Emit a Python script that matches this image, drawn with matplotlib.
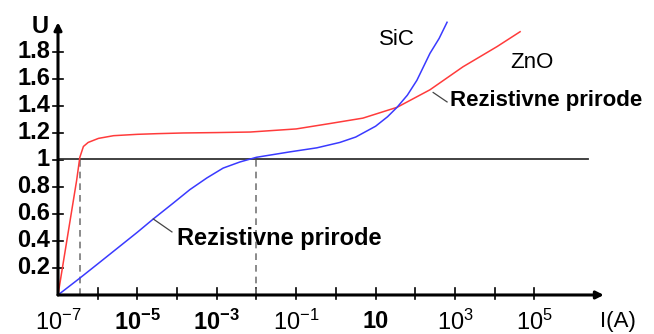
import matplotlib
matplotlib.use("Agg")
import matplotlib.pyplot as plt

plt.rcParams['font.family'] = ['Liberation Sans', 'DejaVu Sans']
plt.rcParams['mathtext.fontset'] = 'custom'
plt.rcParams['mathtext.rm'] = 'Liberation Sans'
plt.rcParams['mathtext.bf'] = 'Liberation Sans:bold'
plt.rcParams['mathtext.default'] = 'regular'

# data: x is log10(I), y is U
zno_logI = [-7, -6.53, -6.45, -6.36, -6.24, -5.98, -5.6, -5.0, -4.5, -3.85, -3, -2.16, -1, -0.15,
            0.68, 1.54, 2.37, 3.2, 4.06, 4.64]
zno_U = [0, 0.85, 1.02, 1.10, 1.13, 1.16, 1.18, 1.19, 1.195, 1.2, 1.203, 1.207, 1.23, 1.27,
         1.31, 1.39, 1.52, 1.69, 1.84, 1.95]

sic_logI = [-7, -6.45, -6, -5, -4.6, -4.1, -3.68, -3.25, -2.84, -2.42, -2, -1.16, -0.48, 0.1,
            0.5, 1.0, 1.3, 1.54, 1.8, 2.04, 2.37, 2.6, 2.8]
sic_U = [0, 0.125, 0.23, 0.465, 0.563, 0.68, 0.78, 0.867, 0.94, 0.985, 1.02, 1.06, 1.09, 1.13,
         1.17, 1.25, 1.32, 1.39, 1.48, 1.59, 1.79, 1.9, 2.02]

y_ticks = [0.2, 0.4, 0.6, 0.8, 1, 1.2, 1.4, 1.6, 1.8]
y_labels = ['0.2', '0.4', '0.6', '0.8', '1', '1.2', '1.4', '1.6', '1.8']
x_ticks = [-6, -5, -4, -3, -2, -1, 0, 1, 2, 3, 4, 5]
x_label_pos = [-7, -5, -3, -1, 1, 3, 5]
x_labels = ['10$^{-7}$', '10$^{-5}$', '10$^{-3}$', '10$^{-1}$', '10', '10$^{3}$', '10$^{5}$']
x_label_bold = [False, True, True, False, True, False, False]
dashed_x = [-6.45, -2]

fig = plt.figure(figsize=(6.54, 3.34), dpi=100)
ax = fig.add_axes([0, 0, 1, 1])
ax.set_xlim(-8.461, 8.013)
ax.set_ylim(-0.289, 2.185)
ax.axis('off')

# axes with arrows
arrow = dict(arrowstyle='-|>', lw=2.2, color='black', mutation_scale=11, shrinkA=0, shrinkB=0)
ax.annotate('', xy=(6.75, 0), xytext=(-7, 0), arrowprops=arrow)
ax.annotate('', xy=(-7, 2.02), xytext=(-7, 0), arrowprops=arrow)

for t in y_ticks:
    ax.plot([-7.12, -6.88], [t, t], color='black', lw=1.2)
for t in x_ticks:
    ax.plot([t, t], [-0.03, 0.05], color='black', lw=1.2)

for t, s in zip(y_ticks, y_labels):
    ax.text(-7.2, t, s, ha='right', va='center', fontsize=17, fontweight='bold')
for t, s, b in zip(x_label_pos, x_labels, x_label_bold):
    ax.text(t, -0.2, s, ha='center', va='center', fontsize=17,
            fontweight='bold' if b else 'normal')
ax.text(-7.45, 1.99, 'U', ha='center', va='center', fontsize=17, fontweight='bold')
ax.text(7.1, -0.2, 'I(A)', ha='center', va='center', fontsize=16)

# reference line U = 1 and dashed drops
ax.plot([-7, 6.35], [1.01, 1.01], color='#333333', lw=1.3)
for xd in dashed_x:
    ax.plot([xd, xd], [0, 1.0], color='#777777', lw=1.2, dashes=(4, 3))

ax.plot(zno_logI, zno_U, color='#ff3b3b', lw=1.1)
ax.plot(sic_logI, sic_U, color='#3a3aff', lw=1.1)

ax.text(1.54, 1.89, 'SiC', ha='center', va='center', fontsize=16)
ax.text(4.94, 1.72, 'ZnO', ha='center', va='center', fontsize=16)

ax.plot([2.45, 2.8], [1.50, 1.43], color='#444444', lw=0.9)
ax.text(2.87, 1.444, 'Rezistivne prirode', ha='left', va='center', fontsize=16, fontweight='bold')
ax.plot([-4.6, -4.13], [0.563, 0.467], color='#444444', lw=0.9)
ax.text(-4.0, 0.42, 'Rezistivne prirode', ha='left', va='center', fontsize=17, fontweight='bold')

fig.savefig('out.png', dpi=100)
